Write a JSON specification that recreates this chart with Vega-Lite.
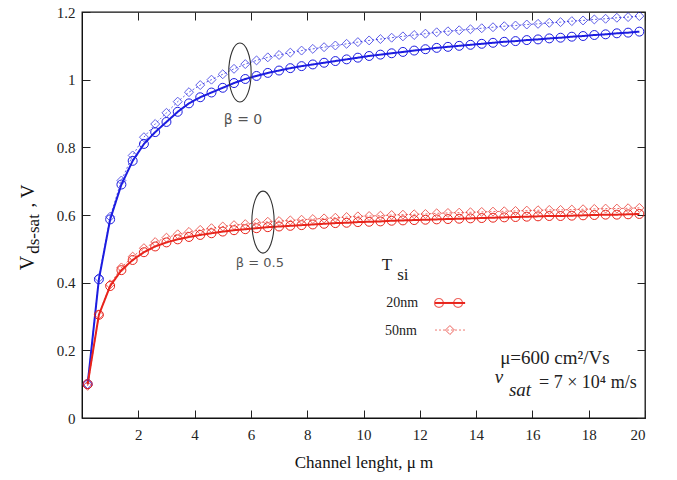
{
"$schema":"https://vega.github.io/schema/vega-lite/v6.json",
"width":563,"height":406,"autosize":"none",
"padding":{"left":82,"top":12,"right":32,"bottom":62},
"background":"white",
"config":{"view":{"stroke":"#111","strokeWidth":1.3},"font":"Times New Roman, Liberation Serif, serif"},
"data":{"values":[
{"L":0.2,"V":0.100,"b":"0","t":"20nm"},{"L":0.6,"V":0.410,"b":"0","t":"20nm"},{"L":1.0,"V":0.587,"b":"0","t":"20nm"},{"L":1.4,"V":0.690,"b":"0","t":"20nm"},{"L":1.8,"V":0.760,"b":"0","t":"20nm"},{"L":2.2,"V":0.810,"b":"0","t":"20nm"},{"L":2.6,"V":0.845,"b":"0","t":"20nm"},{"L":3.0,"V":0.875,"b":"0","t":"20nm"},{"L":3.4,"V":0.905,"b":"0","t":"20nm"},{"L":3.8,"V":0.930,"b":"0","t":"20nm"},{"L":4.2,"V":0.948,"b":"0","t":"20nm"},{"L":4.6,"V":0.962,"b":"0","t":"20nm"},{"L":5.0,"V":0.976,"b":"0","t":"20nm"},{"L":5.4,"V":0.990,"b":"0","t":"20nm"},{"L":5.8,"V":1.002,"b":"0","t":"20nm"},{"L":6.2,"V":1.011,"b":"0","t":"20nm"},{"L":6.6,"V":1.020,"b":"0","t":"20nm"},{"L":7.0,"V":1.027,"b":"0","t":"20nm"},{"L":7.4,"V":1.034,"b":"0","t":"20nm"},{"L":7.8,"V":1.040,"b":"0","t":"20nm"},{"L":8.2,"V":1.045,"b":"0","t":"20nm"},{"L":8.6,"V":1.050,"b":"0","t":"20nm"},{"L":9.0,"V":1.055,"b":"0","t":"20nm"},{"L":9.4,"V":1.060,"b":"0","t":"20nm"},{"L":9.8,"V":1.065,"b":"0","t":"20nm"},{"L":10.2,"V":1.070,"b":"0","t":"20nm"},{"L":10.6,"V":1.074,"b":"0","t":"20nm"},{"L":11.0,"V":1.078,"b":"0","t":"20nm"},{"L":11.4,"V":1.082,"b":"0","t":"20nm"},{"L":11.8,"V":1.086,"b":"0","t":"20nm"},{"L":12.2,"V":1.090,"b":"0","t":"20nm"},{"L":12.6,"V":1.094,"b":"0","t":"20nm"},{"L":13.0,"V":1.097,"b":"0","t":"20nm"},{"L":13.4,"V":1.100,"b":"0","t":"20nm"},{"L":13.8,"V":1.103,"b":"0","t":"20nm"},{"L":14.2,"V":1.106,"b":"0","t":"20nm"},{"L":14.6,"V":1.109,"b":"0","t":"20nm"},{"L":15.0,"V":1.112,"b":"0","t":"20nm"},{"L":15.4,"V":1.114,"b":"0","t":"20nm"},{"L":15.8,"V":1.117,"b":"0","t":"20nm"},{"L":16.2,"V":1.119,"b":"0","t":"20nm"},{"L":16.6,"V":1.122,"b":"0","t":"20nm"},{"L":17.0,"V":1.124,"b":"0","t":"20nm"},{"L":17.4,"V":1.127,"b":"0","t":"20nm"},{"L":17.8,"V":1.129,"b":"0","t":"20nm"},{"L":18.2,"V":1.132,"b":"0","t":"20nm"},{"L":18.6,"V":1.134,"b":"0","t":"20nm"},{"L":19.0,"V":1.137,"b":"0","t":"20nm"},{"L":19.4,"V":1.139,"b":"0","t":"20nm"},{"L":19.8,"V":1.142,"b":"0","t":"20nm"},
{"L":0.2,"V":0.100,"b":"0","t":"50nm"},{"L":0.6,"V":0.414,"b":"0","t":"50nm"},{"L":1.0,"V":0.595,"b":"0","t":"50nm"},{"L":1.4,"V":0.702,"b":"0","t":"50nm"},{"L":1.8,"V":0.776,"b":"0","t":"50nm"},{"L":2.2,"V":0.830,"b":"0","t":"50nm"},{"L":2.6,"V":0.869,"b":"0","t":"50nm"},{"L":3.0,"V":0.902,"b":"0","t":"50nm"},{"L":3.4,"V":0.935,"b":"0","t":"50nm"},{"L":3.8,"V":0.963,"b":"0","t":"50nm"},{"L":4.2,"V":0.984,"b":"0","t":"50nm"},{"L":4.6,"V":1.000,"b":"0","t":"50nm"},{"L":5.0,"V":1.016,"b":"0","t":"50nm"},{"L":5.4,"V":1.032,"b":"0","t":"50nm"},{"L":5.8,"V":1.046,"b":"0","t":"50nm"},{"L":6.2,"V":1.057,"b":"0","t":"50nm"},{"L":6.6,"V":1.066,"b":"0","t":"50nm"},{"L":7.0,"V":1.073,"b":"0","t":"50nm"},{"L":7.4,"V":1.080,"b":"0","t":"50nm"},{"L":7.8,"V":1.086,"b":"0","t":"50nm"},{"L":8.2,"V":1.091,"b":"0","t":"50nm"},{"L":8.6,"V":1.096,"b":"0","t":"50nm"},{"L":9.0,"V":1.101,"b":"0","t":"50nm"},{"L":9.4,"V":1.106,"b":"0","t":"50nm"},{"L":9.8,"V":1.111,"b":"0","t":"50nm"},{"L":10.2,"V":1.116,"b":"0","t":"50nm"},{"L":10.6,"V":1.120,"b":"0","t":"50nm"},{"L":11.0,"V":1.124,"b":"0","t":"50nm"},{"L":11.4,"V":1.128,"b":"0","t":"50nm"},{"L":11.8,"V":1.132,"b":"0","t":"50nm"},{"L":12.2,"V":1.136,"b":"0","t":"50nm"},{"L":12.6,"V":1.140,"b":"0","t":"50nm"},{"L":13.0,"V":1.143,"b":"0","t":"50nm"},{"L":13.4,"V":1.146,"b":"0","t":"50nm"},{"L":13.8,"V":1.149,"b":"0","t":"50nm"},{"L":14.2,"V":1.152,"b":"0","t":"50nm"},{"L":14.6,"V":1.155,"b":"0","t":"50nm"},{"L":15.0,"V":1.158,"b":"0","t":"50nm"},{"L":15.4,"V":1.160,"b":"0","t":"50nm"},{"L":15.8,"V":1.163,"b":"0","t":"50nm"},{"L":16.2,"V":1.165,"b":"0","t":"50nm"},{"L":16.6,"V":1.168,"b":"0","t":"50nm"},{"L":17.0,"V":1.170,"b":"0","t":"50nm"},{"L":17.4,"V":1.173,"b":"0","t":"50nm"},{"L":17.8,"V":1.175,"b":"0","t":"50nm"},{"L":18.2,"V":1.178,"b":"0","t":"50nm"},{"L":18.6,"V":1.180,"b":"0","t":"50nm"},{"L":19.0,"V":1.183,"b":"0","t":"50nm"},{"L":19.4,"V":1.185,"b":"0","t":"50nm"},{"L":19.8,"V":1.188,"b":"0","t":"50nm"},
{"L":0.2,"V":0.100,"b":"0.5","t":"20nm"},{"L":0.6,"V":0.305,"b":"0.5","t":"20nm"},{"L":1.0,"V":0.390,"b":"0.5","t":"20nm"},{"L":1.4,"V":0.437,"b":"0.5","t":"20nm"},{"L":1.8,"V":0.467,"b":"0.5","t":"20nm"},{"L":2.2,"V":0.490,"b":"0.5","t":"20nm"},{"L":2.6,"V":0.507,"b":"0.5","t":"20nm"},{"L":3.0,"V":0.519,"b":"0.5","t":"20nm"},{"L":3.4,"V":0.528,"b":"0.5","t":"20nm"},{"L":3.8,"V":0.535,"b":"0.5","t":"20nm"},{"L":4.2,"V":0.541,"b":"0.5","t":"20nm"},{"L":4.6,"V":0.546,"b":"0.5","t":"20nm"},{"L":5.0,"V":0.551,"b":"0.5","t":"20nm"},{"L":5.4,"V":0.555,"b":"0.5","t":"20nm"},{"L":5.8,"V":0.558,"b":"0.5","t":"20nm"},{"L":6.2,"V":0.561,"b":"0.5","t":"20nm"},{"L":6.6,"V":0.564,"b":"0.5","t":"20nm"},{"L":7.0,"V":0.566,"b":"0.5","t":"20nm"},{"L":7.4,"V":0.568,"b":"0.5","t":"20nm"},{"L":7.8,"V":0.570,"b":"0.5","t":"20nm"},{"L":8.2,"V":0.572,"b":"0.5","t":"20nm"},{"L":8.6,"V":0.574,"b":"0.5","t":"20nm"},{"L":9.0,"V":0.576,"b":"0.5","t":"20nm"},{"L":9.4,"V":0.577,"b":"0.5","t":"20nm"},{"L":9.8,"V":0.579,"b":"0.5","t":"20nm"},{"L":10.2,"V":0.580,"b":"0.5","t":"20nm"},{"L":10.6,"V":0.581,"b":"0.5","t":"20nm"},{"L":11.0,"V":0.583,"b":"0.5","t":"20nm"},{"L":11.4,"V":0.584,"b":"0.5","t":"20nm"},{"L":11.8,"V":0.585,"b":"0.5","t":"20nm"},{"L":12.2,"V":0.586,"b":"0.5","t":"20nm"},{"L":12.6,"V":0.587,"b":"0.5","t":"20nm"},{"L":13.0,"V":0.588,"b":"0.5","t":"20nm"},{"L":13.4,"V":0.589,"b":"0.5","t":"20nm"},{"L":13.8,"V":0.590,"b":"0.5","t":"20nm"},{"L":14.2,"V":0.591,"b":"0.5","t":"20nm"},{"L":14.6,"V":0.592,"b":"0.5","t":"20nm"},{"L":15.0,"V":0.593,"b":"0.5","t":"20nm"},{"L":15.4,"V":0.594,"b":"0.5","t":"20nm"},{"L":15.8,"V":0.595,"b":"0.5","t":"20nm"},{"L":16.2,"V":0.596,"b":"0.5","t":"20nm"},{"L":16.6,"V":0.597,"b":"0.5","t":"20nm"},{"L":17.0,"V":0.597,"b":"0.5","t":"20nm"},{"L":17.4,"V":0.598,"b":"0.5","t":"20nm"},{"L":17.8,"V":0.599,"b":"0.5","t":"20nm"},{"L":18.2,"V":0.600,"b":"0.5","t":"20nm"},{"L":18.6,"V":0.601,"b":"0.5","t":"20nm"},{"L":19.0,"V":0.601,"b":"0.5","t":"20nm"},{"L":19.4,"V":0.602,"b":"0.5","t":"20nm"},{"L":19.8,"V":0.603,"b":"0.5","t":"20nm"},
{"L":0.2,"V":0.095,"b":"0.5","t":"50nm"},{"L":0.6,"V":0.305,"b":"0.5","t":"50nm"},{"L":1.0,"V":0.395,"b":"0.5","t":"50nm"},{"L":1.4,"V":0.445,"b":"0.5","t":"50nm"},{"L":1.8,"V":0.477,"b":"0.5","t":"50nm"},{"L":2.2,"V":0.502,"b":"0.5","t":"50nm"},{"L":2.6,"V":0.520,"b":"0.5","t":"50nm"},{"L":3.0,"V":0.533,"b":"0.5","t":"50nm"},{"L":3.4,"V":0.543,"b":"0.5","t":"50nm"},{"L":3.8,"V":0.550,"b":"0.5","t":"50nm"},{"L":4.2,"V":0.556,"b":"0.5","t":"50nm"},{"L":4.6,"V":0.561,"b":"0.5","t":"50nm"},{"L":5.0,"V":0.566,"b":"0.5","t":"50nm"},{"L":5.4,"V":0.570,"b":"0.5","t":"50nm"},{"L":5.8,"V":0.573,"b":"0.5","t":"50nm"},{"L":6.2,"V":0.577,"b":"0.5","t":"50nm"},{"L":6.6,"V":0.580,"b":"0.5","t":"50nm"},{"L":7.0,"V":0.582,"b":"0.5","t":"50nm"},{"L":7.4,"V":0.584,"b":"0.5","t":"50nm"},{"L":7.8,"V":0.586,"b":"0.5","t":"50nm"},{"L":8.2,"V":0.588,"b":"0.5","t":"50nm"},{"L":8.6,"V":0.590,"b":"0.5","t":"50nm"},{"L":9.0,"V":0.592,"b":"0.5","t":"50nm"},{"L":9.4,"V":0.594,"b":"0.5","t":"50nm"},{"L":9.8,"V":0.596,"b":"0.5","t":"50nm"},{"L":10.2,"V":0.597,"b":"0.5","t":"50nm"},{"L":10.6,"V":0.598,"b":"0.5","t":"50nm"},{"L":11.0,"V":0.600,"b":"0.5","t":"50nm"},{"L":11.4,"V":0.601,"b":"0.5","t":"50nm"},{"L":11.8,"V":0.602,"b":"0.5","t":"50nm"},{"L":12.2,"V":0.603,"b":"0.5","t":"50nm"},{"L":12.6,"V":0.605,"b":"0.5","t":"50nm"},{"L":13.0,"V":0.606,"b":"0.5","t":"50nm"},{"L":13.4,"V":0.607,"b":"0.5","t":"50nm"},{"L":13.8,"V":0.608,"b":"0.5","t":"50nm"},{"L":14.2,"V":0.609,"b":"0.5","t":"50nm"},{"L":14.6,"V":0.610,"b":"0.5","t":"50nm"},{"L":15.0,"V":0.611,"b":"0.5","t":"50nm"},{"L":15.4,"V":0.612,"b":"0.5","t":"50nm"},{"L":15.8,"V":0.613,"b":"0.5","t":"50nm"},{"L":16.2,"V":0.614,"b":"0.5","t":"50nm"},{"L":16.6,"V":0.615,"b":"0.5","t":"50nm"},{"L":17.0,"V":0.615,"b":"0.5","t":"50nm"},{"L":17.4,"V":0.616,"b":"0.5","t":"50nm"},{"L":17.8,"V":0.617,"b":"0.5","t":"50nm"},{"L":18.2,"V":0.618,"b":"0.5","t":"50nm"},{"L":18.6,"V":0.619,"b":"0.5","t":"50nm"},{"L":19.0,"V":0.619,"b":"0.5","t":"50nm"},{"L":19.4,"V":0.620,"b":"0.5","t":"50nm"},{"L":19.8,"V":0.621,"b":"0.5","t":"50nm"}
]},
"layer":[
{"mark":{"type":"line","clip":true},
 "encoding":{
  "x":{"field":"L","type":"quantitative","scale":{"domain":[0,20],"nice":false,"zero":false},
   "axis":{"orient":"bottom","values":[2,4,6,8,10,12,14,16,18,20],"grid":false,"tickSize":-8,"tickColor":"#222","domainColor":"#111","labelPadding":17,"labelFontSize":15,"labelColor":"#222","labelFont":"Times New Roman, Liberation Serif, serif","title":"Channel lenght, μ m","titleFont":"Times New Roman, Liberation Serif, serif","titleFontSize":17,"titleFontWeight":"normal","titleColor":"#111","titlePadding":12}},
  "y":{"field":"V","type":"quantitative","scale":{"domain":[0,1.2],"nice":false,"zero":false},
   "axis":{"orient":"left","values":[0,0.2,0.4,0.6,0.8,1,1.2],"format":"~g","grid":false,"tickSize":-8,"tickColor":"#222","domainColor":"#111","labelPadding":15,"labelFontSize":15,"labelColor":"#222","labelFont":"Times New Roman, Liberation Serif, serif","title":null}},
  "color":{"field":"b","type":"nominal","scale":{"domain":["0","0.5"],"range":["#1c1ce0","#e8241b"]},"legend":null},
  "strokeDash":{"field":"t","type":"nominal","scale":{"domain":["20nm","50nm"],"range":[[1,0],[2,2]]},"legend":null},
  "strokeWidth":{"field":"t","type":"nominal","scale":{"domain":["20nm","50nm"],"range":[2,1]},"legend":null},
  "opacity":{"field":"t","type":"nominal","scale":{"domain":["20nm","50nm"],"range":[1,0.7]},"legend":null},
  "detail":{"field":"t"}
 }},
{"mark":{"type":"point","filled":false,"size":80,"strokeWidth":1,"clip":true},
 "encoding":{
  "x":{"field":"L","type":"quantitative","axis":null},
  "y":{"field":"V","type":"quantitative","axis":null},
  "color":{"field":"b","type":"nominal","legend":null},
  "shape":{"field":"t","type":"nominal","scale":{"domain":["20nm","50nm"],"range":["circle","diamond"]},"legend":null},
  "opacity":{"field":"t","type":"nominal","legend":null}
 }},
{"mark":{"type":"point","opacity":0},
 "encoding":{
  "x":{"field":"L","type":"quantitative","axis":{"orient":"top","values":[2,4,6,8,10,12,14,16,18,20],"labels":false,"domain":false,"grid":false,"tickSize":-8,"tickColor":"#222","title":null}},
  "y":{"field":"V","type":"quantitative","axis":{"orient":"right","values":[0,0.2,0.4,0.6,0.8,1,1.2],"labels":false,"domain":false,"grid":false,"tickSize":-8,"tickColor":"#222","title":null}}
 }},
{"data":{"values":[{}]},"mark":{"type":"point","shape":"M0,-1 A0.38,1 0 1,1 0,1 A0.38,1 0 1,1 0,-1 Z","size":3481,"stroke":"#333","strokeWidth":1.1,"filled":false,"opacity":1},
 "encoding":{"x":{"datum":5.61,"type":"quantitative","axis":null},"y":{"datum":1.021,"type":"quantitative","axis":null}}},
{"data":{"values":[{}]},"mark":{"type":"point","shape":"M0,-1 A0.36,1 0 1,1 0,1 A0.36,1 0 1,1 0,-1 Z","size":3844,"stroke":"#333","strokeWidth":1.1,"filled":false,"opacity":1},
 "encoding":{"x":{"datum":6.43,"type":"quantitative","axis":null},"y":{"datum":0.579,"type":"quantitative","axis":null}}},
{"data":{"values":[{}]},"mark":{"type":"text","text":"β  = 0","font":"DejaVu Sans","fontSize":14,"color":"#555","align":"center","baseline":"middle"},
 "encoding":{"x":{"datum":5.72,"type":"quantitative","axis":null},"y":{"datum":0.881,"type":"quantitative","axis":null}}},
{"data":{"values":[{}]},"mark":{"type":"text","text":"β  = 0.5","font":"DejaVu Sans","fontSize":13,"color":"#555","align":"center","baseline":"middle"},
 "encoding":{"x":{"datum":6.32,"type":"quantitative","axis":null},"y":{"datum":0.458,"type":"quantitative","axis":null}}},
{"data":{"values":[{}]},"mark":{"type":"text","text":"T","font":"Times New Roman, Liberation Serif, serif","fontSize":17,"color":"#222","align":"center","baseline":"middle"},
 "encoding":{"x":{"datum":10.83,"type":"quantitative","axis":null},"y":{"datum":0.452,"type":"quantitative","axis":null}}},
{"data":{"values":[{}]},"mark":{"type":"text","text":"si","font":"Times New Roman, Liberation Serif, serif","fontSize":17,"color":"#222","align":"center","baseline":"middle"},
 "encoding":{"x":{"datum":11.40,"type":"quantitative","axis":null},"y":{"datum":0.424,"type":"quantitative","axis":null}}},
{"data":{"values":[{}]},"mark":{"type":"text","text":"20nm","font":"Times New Roman, Liberation Serif, serif","fontSize":14,"color":"#222","align":"center","baseline":"middle"},
 "encoding":{"x":{"datum":11.37,"type":"quantitative","axis":null},"y":{"datum":0.340,"type":"quantitative","axis":null}}},
{"data":{"values":[{}]},"mark":{"type":"text","text":"50nm","font":"Times New Roman, Liberation Serif, serif","fontSize":14,"color":"#222","align":"center","baseline":"middle"},
 "encoding":{"x":{"datum":11.33,"type":"quantitative","axis":null},"y":{"datum":0.257,"type":"quantitative","axis":null}}},
{"data":{"values":[{}]},"mark":{"type":"rule","color":"#e8241b","strokeWidth":2},
 "encoding":{"x":{"datum":12.54,"type":"quantitative","axis":null},"x2":{"datum":13.61},"y":{"datum":0.340,"type":"quantitative","axis":null}}},
{"data":{"values":[{}]},"mark":{"type":"point","shape":"circle","size":80,"filled":false,"color":"#e8241b","strokeWidth":1.2},
 "encoding":{"x":{"datum":12.68,"type":"quantitative","axis":null},"y":{"datum":0.340,"type":"quantitative","axis":null}}},
{"data":{"values":[{}]},"mark":{"type":"point","shape":"circle","size":80,"filled":false,"color":"#e8241b","strokeWidth":1.2},
 "encoding":{"x":{"datum":13.36,"type":"quantitative","axis":null},"y":{"datum":0.340,"type":"quantitative","axis":null}}},
{"data":{"values":[{}]},"mark":{"type":"rule","color":"#ee7a72","strokeWidth":1,"strokeDash":[2,2]},
 "encoding":{"x":{"datum":12.54,"type":"quantitative","axis":null},"x2":{"datum":13.61},"y":{"datum":0.260,"type":"quantitative","axis":null}}},
{"data":{"values":[{}]},"mark":{"type":"point","shape":"diamond","size":80,"filled":false,"color":"#e8241b","opacity":0.7,"strokeWidth":1},
 "encoding":{"x":{"datum":13.07,"type":"quantitative","axis":null},"y":{"datum":0.260,"type":"quantitative","axis":null}}},
{"data":{"values":[{}]},"mark":{"type":"text","text":"μ=600 cm²/Vs","font":"Times New Roman, Liberation Serif, serif","fontSize":19,"color":"#222","align":"center","baseline":"middle"},
 "encoding":{"x":{"datum":16.8,"type":"quantitative","axis":null},"y":{"datum":0.177,"type":"quantitative","axis":null}}},
{"data":{"values":[{}]},"mark":{"type":"text","text":"ν","font":"Times New Roman, Liberation Serif, serif","fontSize":19,"fontStyle":"italic","color":"#222","align":"center","baseline":"middle"},
 "encoding":{"x":{"datum":14.81,"type":"quantitative","axis":null},"y":{"datum":0.121,"type":"quantitative","axis":null}}},
{"data":{"values":[{}]},"mark":{"type":"text","text":"sat","font":"Times New Roman, Liberation Serif, serif","fontSize":19,"fontStyle":"italic","color":"#222","align":"center","baseline":"middle"},
 "encoding":{"x":{"datum":15.56,"type":"quantitative","axis":null},"y":{"datum":0.083,"type":"quantitative","axis":null}}},
{"data":{"values":[{}]},"mark":{"type":"text","text":"= 7 × 10⁴ m/s","font":"Times New Roman, Liberation Serif, serif","fontSize":18,"color":"#222","align":"center","baseline":"middle"},
 "encoding":{"x":{"datum":17.97,"type":"quantitative","axis":null},"y":{"datum":0.103,"type":"quantitative","axis":null}}},
{"data":{"values":[{}]},"mark":{"type":"text","text":"V","font":"Times New Roman, Liberation Serif, serif","fontSize":20,"color":"#111","angle":270,"align":"center","baseline":"middle"},
 "encoding":{"x":{"datum":-1.92,"type":"quantitative","axis":null},"y":{"datum":0.458,"type":"quantitative","axis":null}}},
{"data":{"values":[{}]},"mark":{"type":"text","text":"ds-sat","font":"Times New Roman, Liberation Serif, serif","fontSize":17,"color":"#111","angle":270,"align":"center","baseline":"middle"},
 "encoding":{"x":{"datum":-1.72,"type":"quantitative","axis":null},"y":{"datum":0.544,"type":"quantitative","axis":null}}},
{"data":{"values":[{}]},"mark":{"type":"text","text":", V","font":"Times New Roman, Liberation Serif, serif","fontSize":19,"color":"#111","angle":270,"align":"center","baseline":"middle"},
 "encoding":{"x":{"datum":-1.92,"type":"quantitative","axis":null},"y":{"datum":0.656,"type":"quantitative","axis":null}}}
],
"resolve":{"axis":{"x":"independent","y":"independent"}}
}
